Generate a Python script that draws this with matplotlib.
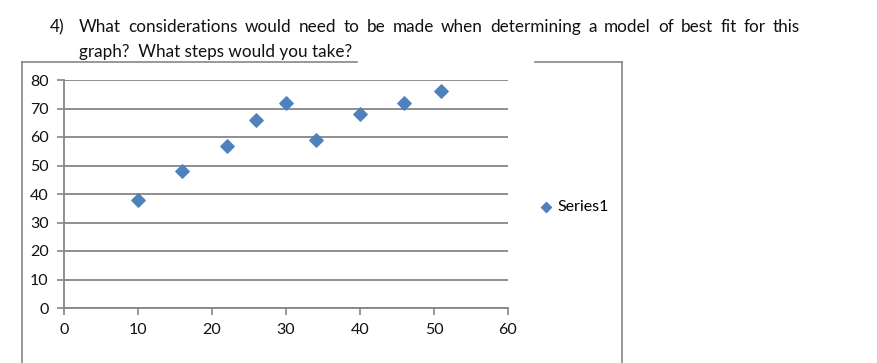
import matplotlib
matplotlib.use('Agg')
from matplotlib import pyplot as plt
from matplotlib.lines import Line2D

x_vals = [10, 16, 22, 26, 30, 34, 40, 46, 51]
y_vals = [38, 48, 57, 66, 72, 59, 68, 72, 76]
series_name = 'Series1'
question_no = '4)'
question_1 = 'What considerations would need to be made when determining a model of best fit for this'
question_2 = 'graph?  What steps would you take?'

plt.rcParams['font.family'] = ['Lato', 'DejaVu Sans']
W, H = 877, 363
fig = plt.figure(figsize=(W / 100, H / 100), dpi=100)
fig.patch.set_facecolor('white')

grey = '#868686'
blue = '#4F81BD'
ink = '#111111'
qsize = 12.3

# question text above the chart, first line justified between x=79 and x=800
fig.text(50 / W, 1 - 27 / H, question_no, fontsize=qsize, va='center', color=ink)
renderer = fig.canvas.get_renderer()
words = question_1.split()
texts = [fig.text(0, 1 - 27 / H, w, fontsize=qsize, va='center', color=ink) for w in words]
widths = [t.get_window_extent(renderer).width for t in texts]
gap = (800 - 79 - sum(widths)) / (len(words) - 1)
x = 79
for t, w in zip(texts, widths):
    t.set_x(x / W)
    x += w + gap
fig.text(79 / W, 1 - 52 / H, question_2, fontsize=qsize, va='center', color=ink)

# chart frame (partly hidden under the text)
for xs, ys in [([22, 357], [62, 62]), ([535, 622], [62, 62]),
               ([22, 22], [62, 363]), ([622, 622], [62, 363])]:
    fig.add_artist(Line2D([v / W for v in xs], [1 - v / H for v in ys],
                          color=grey, lw=1.2, transform=fig.transFigure))

ax = fig.add_axes([64 / W, 1 - 308 / H, 444 / W, 228 / H])
ax.scatter(x_vals, y_vals, marker='D', s=46, color=blue, zorder=3, label=series_name)

ax.set_xlim(0, 60)
ax.set_ylim(0, 80)
ax.set_xticks(range(0, 61, 10))
ax.set_yticks(range(0, 81, 10))
ax.grid(axis='y', color=grey, lw=1.3)
ax.set_axisbelow(True)
for s in ['top', 'right']:
    ax.spines[s].set_visible(False)
for s in ['left', 'bottom']:
    ax.spines[s].set_color(grey)
    ax.spines[s].set_linewidth(1.3)
ax.tick_params(colors=grey, length=5, width=1.2, labelsize=11.5, labelcolor=ink, pad=6)

ax.legend(loc='center left', bbox_to_anchor=(530 / W, 1 - 207 / H), bbox_transform=fig.transFigure,
          frameon=False, fontsize=11.5, handletextpad=-0.3, borderpad=0, borderaxespad=0,
          markerscale=0.75)

plt.savefig('out.png', dpi=100)
